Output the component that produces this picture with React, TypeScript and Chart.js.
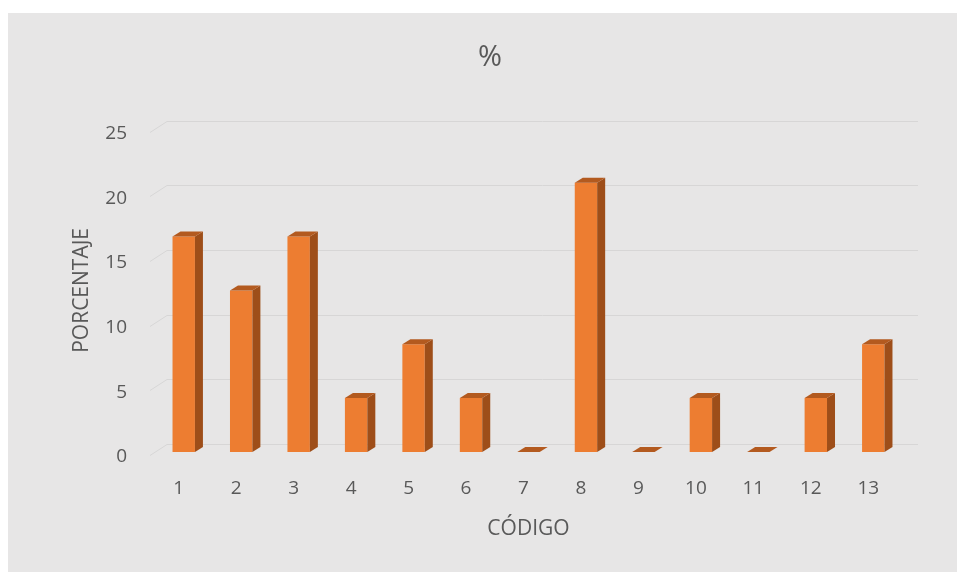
import React, { useEffect, useRef } from "react";
import { Chart, registerables } from "chart.js";

Chart.register(...registerables);

const categories = ["1", "2", "3", "4", "5", "6", "7", "8", "9", "10", "11", "12", "13"];
const percentages = [16.67, 12.5, 16.67, 4.17, 8.33, 4.17, 0, 20.83, 0, 4.17, 0, 4.17, 8.33];
const yTickValues = [0, 5, 10, 15, 20, 25];
const chartTitle = "%";
const xTitle = "CÓDIGO";
const yTitle = "PORCENTAJE";

const FONT = "'Open Sans', 'Liberation Sans', sans-serif";
const TEXT = "#595959";
const FRONT = "#ED7D31";
const SIDE = "#9E4E19";
const TOP = "#B35A1F";
const GRID = "#d7d6d6";
const DX = 8;
const DY = 5;

const wallGrid = {
  id: "wallGrid",
  beforeDatasetsDraw(chart: any) {
    const { ctx, chartArea } = chart;
    const y = chart.scales.y;
    ctx.save();
    ctx.strokeStyle = GRID;
    ctx.lineWidth = 1;
    y.ticks.forEach((t: any) => {
      const py = Math.round(y.getPixelForValue(t.value)) + 0.5;
      ctx.beginPath();
      ctx.moveTo(chartArea.left - 5, py + 3);
      ctx.lineTo(chartArea.left + 12, py - 8);
      ctx.lineTo(chartArea.right + 16, py - 8);
      ctx.stroke();
    });
    ctx.restore();
  },
};

const bar3d = {
  id: "bar3d",
  afterDatasetsDraw(chart: any) {
    const { ctx } = chart;
    const meta = chart.getDatasetMeta(0);
    ctx.save();
    meta.data.forEach((bar: any) => {
      const { x, y, base, width } = bar.getProps(["x", "y", "base", "width"], true);
      const l = x - width / 2;
      const r = x + width / 2;
      if (base - y > 0.5) {
        ctx.fillStyle = SIDE;
        ctx.beginPath();
        ctx.moveTo(r, y);
        ctx.lineTo(r + DX, y - DY);
        ctx.lineTo(r + DX, base - DY);
        ctx.lineTo(r, base);
        ctx.closePath();
        ctx.fill();
      }
      ctx.fillStyle = TOP;
      ctx.beginPath();
      ctx.moveTo(l, y);
      ctx.lineTo(l + DX, y - DY);
      ctx.lineTo(r + DX, y - DY);
      ctx.lineTo(r, y);
      ctx.closePath();
      ctx.fill();
    });
    ctx.restore();
  },
};

export default function App() {
  const ref = useRef<HTMLCanvasElement | null>(null);

  useEffect(() => {
    if (!ref.current) return;
    const chart = new Chart(ref.current, {
      type: "bar",
      data: {
        labels: categories,
        datasets: [
          {
            label: chartTitle,
            data: percentages,
            backgroundColor: FRONT,
            borderWidth: 0,
            categoryPercentage: 1,
            barPercentage: 0.39,
          },
        ],
      },
      options: {
        responsive: false,
        animation: false,
        layout: { padding: { left: 78, right: 55, top: 0, bottom: 0 } },
        plugins: {
          legend: { display: false },
          tooltip: { enabled: false },
          title: {
            display: true,
            text: chartTitle,
            color: TEXT,
            font: { family: FONT, size: 29, weight: "normal" },
            padding: { top: 40, bottom: 54 },
          },
        },
        scales: {
          x: {
            grid: { display: false, drawTicks: false },
            border: { display: false },
            ticks: {
              color: TEXT,
              font: { family: FONT, size: 19 },
              padding: 25,
              labelOffset: -5,
              maxRotation: 0,
            },
            title: {
              display: true,
              text: xTitle,
              color: TEXT,
              font: { family: FONT, size: 21 },
              padding: { top: 0, bottom: 30 },
            },
            afterFit: (axis: any) => {
              axis.height = 120;
            },
          },
          y: {
            min: 0,
            max: 25,
            grid: { display: false, drawTicks: false },
            border: { display: false },
            afterBuildTicks: (axis: any) => {
              axis.ticks = yTickValues.map((v) => ({ value: v }));
            },
            ticks: {
              color: TEXT,
              font: { family: FONT, size: 19 },
              padding: 28,
              labelOffset: 5,
            },
            title: {
              display: true,
              text: yTitle,
              color: TEXT,
              font: { family: FONT, size: 21 },
              padding: { top: -9, bottom: 0 },
            },
            afterFit: (axis: any) => {
              axis.width = 77;
            },
          },
        },
      },
      plugins: [wallGrid, bar3d],
    });
    return () => chart.destroy();
  }, []);

  return (
    <div style={{ position: "fixed", left: 0, top: 0, width: 957, height: 572, background: "#ffffff" }}>
      <div style={{ position: "absolute", left: 8, top: 13, right: 0, bottom: 0, background: "#e7e6e6" }} />
      <canvas ref={ref} width={957} height={572} style={{ position: "absolute", left: 0, top: 0 }} />
    </div>
  );
}
